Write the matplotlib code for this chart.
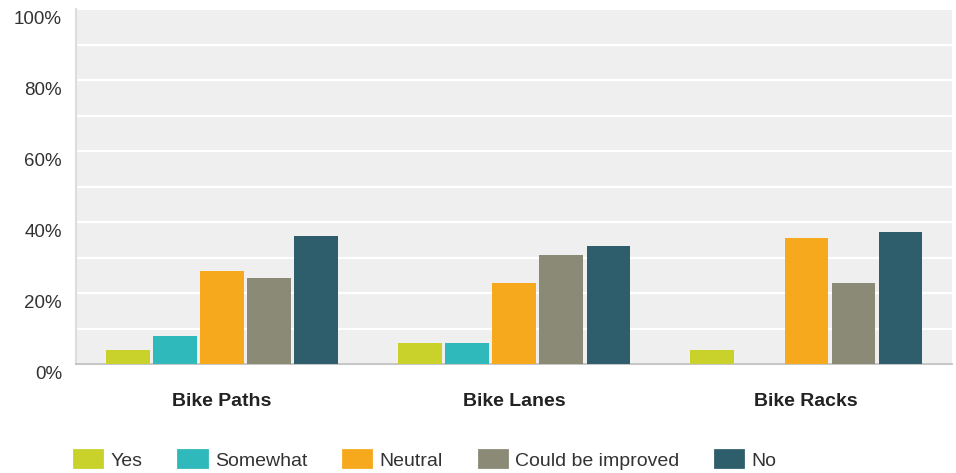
import numpy as np
import matplotlib
matplotlib.use("Agg")
import matplotlib.pyplot as plt
import matplotlib.patches as mpatches
import matplotlib.transforms as mtransforms

# --- DATA ---
categories = ["Bike Paths", "Bike Lanes", "Bike Racks"]
series_names = ["Yes", "Somewhat", "Neutral", "Could be improved", "No"]
yes = [3.9, 6.0, 3.9]
somewhat = [7.9, 6.0, 0.0]
neutral = [26.2, 22.7, 35.4]
could_be_improved = [24.1, 30.7, 22.7]
no = [36.1, 33.2, 37.1]
y_ticks = [0, 20, 40, 60, 80, 100]
y_tick_labels = ["0%", "20%", "40%", "60%", "80%", "100%"]

colors = ["#c8d22a", "#2fb9ba", "#f6a91c", "#8a8a77", "#2e5e6b"]
# -----------------------------

plt.rcParams['font.family'] = ['Liberation Sans', 'DejaVu Sans']

fig = plt.figure(figsize=(9.56, 4.73), dpi=100)
ax = fig.add_axes([0.0795, 0.2304, 0.9165, 0.7505])
ax.set_facecolor("#efefef")

series = [yes, somewhat, neutral, could_be_improved, no]
x = np.arange(len(categories))
step = 0.161
for i, (vals, col) in enumerate(zip(series, colors)):
    offs = (i - 2) * step
    ax.bar(x + offs, vals, width=0.148, color=col, linewidth=0, zorder=3)

ax.set_xlim(-0.5, 2.5)
ax.set_ylim(0, 100)
ax.set_yticks(y_ticks)
ax.set_yticklabels(y_tick_labels, fontsize=13.5, color="#333333")
ax.set_yticks(np.arange(10, 100, 20), minor=True)
ax.grid(axis="y", which="both", color="white", linewidth=1.6, zorder=1)
ax.tick_params(axis="y", which="both", length=0, pad=10)
# tick labels sit a little below their gridlines in the original
shift = mtransforms.ScaledTranslation(0, -8 / 100, fig.dpi_scale_trans)
for lbl in ax.get_yticklabels():
    lbl.set_transform(lbl.get_transform() + shift)

ax.set_xticks(x)
ax.set_xticklabels(categories, fontsize=14, fontweight="bold", color="#222222")
ax.tick_params(axis="x", length=0, pad=21)

for side in ["top", "right"]:
    ax.spines[side].set_visible(False)
ax.spines["left"].set_color("#dddddd")
ax.spines["left"].set_linewidth(1.5)
ax.spines["bottom"].set_color("#bbbbbb")
ax.spines["bottom"].set_linewidth(1.2)

handles = [mpatches.Patch(facecolor=c, edgecolor=c, linewidth=2, joinstyle="round")
           for c in colors]
fig.legend(handles, series_names, loc="center left", bbox_to_anchor=(0.0775, 0.0275),
           ncol=5, frameon=False, fontsize=14, columnspacing=1.85,
           handlelength=1.45, handleheight=0.95, handletextpad=0.42,
           borderpad=0, borderaxespad=0, labelcolor="#333333")

fig.savefig("out.png", dpi=100)
